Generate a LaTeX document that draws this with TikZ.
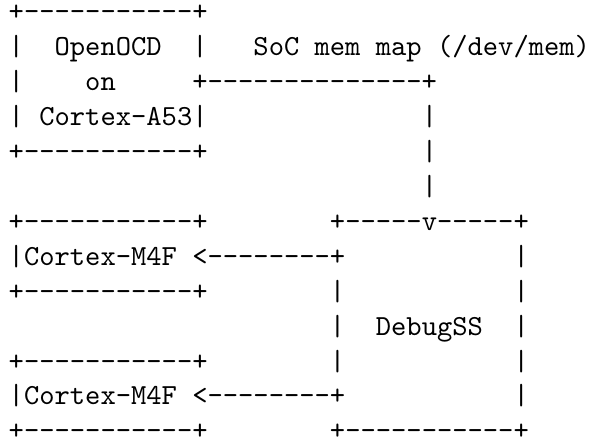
\documentclass[tikz,border=0pt]{standalone}
\usepackage{fontspec}
\usepackage{tikz}

\begin{document}
\begin{tikzpicture}[x=5.25pt,y=12pt]
	\tikzset{ascii/.style={anchor=base west,inner sep=0pt,outer sep=0pt,font=\ttfamily}}
	\useasboundingbox (-3pt,7pt) rectangle (199.5pt,-144.7pt);

	%% Cortex-A53 box
	\node[ascii] (a53top) at (0,0) {+-----------+};
	\node[ascii] (a53l1) at (0,-1) {|};
	\node[ascii] (openocd) at (3,-1) {OpenOCD};
	\node[ascii] (a53r1) at (12,-1) {|};
	\node[ascii] (memmap) at (16,-1) {SoC mem map (/dev/mem)};
	\node[ascii] (a53l2) at (0,-2) {|};
	\node[ascii] (on) at (5,-2) {on};
	\node[ascii] (memline) at (12,-2) {+--------------+};
	\node[ascii] (a53l3) at (0,-3) {|};
	\node[ascii] (a53) at (2,-3) {Cortex-A53|};
	\node[ascii] (memv0) at (27,-3) {|};
	\node[ascii] (a53bot) at (0,-4) {+-----------+};
	\node[ascii] (memv1) at (27,-4) {|};
	\node[ascii] (memv2) at (27,-5) {|};

	%% Cortex-M4F boxes
	\node[ascii] (m4atop) at (0,-6) {+-----------+};
	\node[ascii] (m4a) at (0,-7) {|Cortex-M4F <--------+};
	\node[ascii] (m4abot) at (0,-8) {+-----------+};
	\node[ascii] (m4btop) at (0,-10) {+-----------+};
	\node[ascii] (m4b) at (0,-11) {|Cortex-M4F <--------+};
	\node[ascii] (m4bbot) at (0,-12) {+-----------+};

	%% DebugSS box
	\node[ascii] (dsstop) at (21,-6) {+-----v-----+};
	\node[ascii] (dssr1) at (33,-7) {|};
	\node[ascii] (dssl2) at (21,-8) {|};
	\node[ascii] (dssr2) at (33,-8) {|};
	\node[ascii] (dssl3) at (21,-9) {|};
	\node[ascii] (debugss) at (24,-9) {DebugSS};
	\node[ascii] (dssr3) at (33,-9) {|};
	\node[ascii] (dssl4) at (21,-10) {|};
	\node[ascii] (dssr4) at (33,-10) {|};
	\node[ascii] (dssr5) at (33,-11) {|};
	\node[ascii] (dssbot) at (21,-12) {+-----------+};
\end{tikzpicture}
\end{document}
